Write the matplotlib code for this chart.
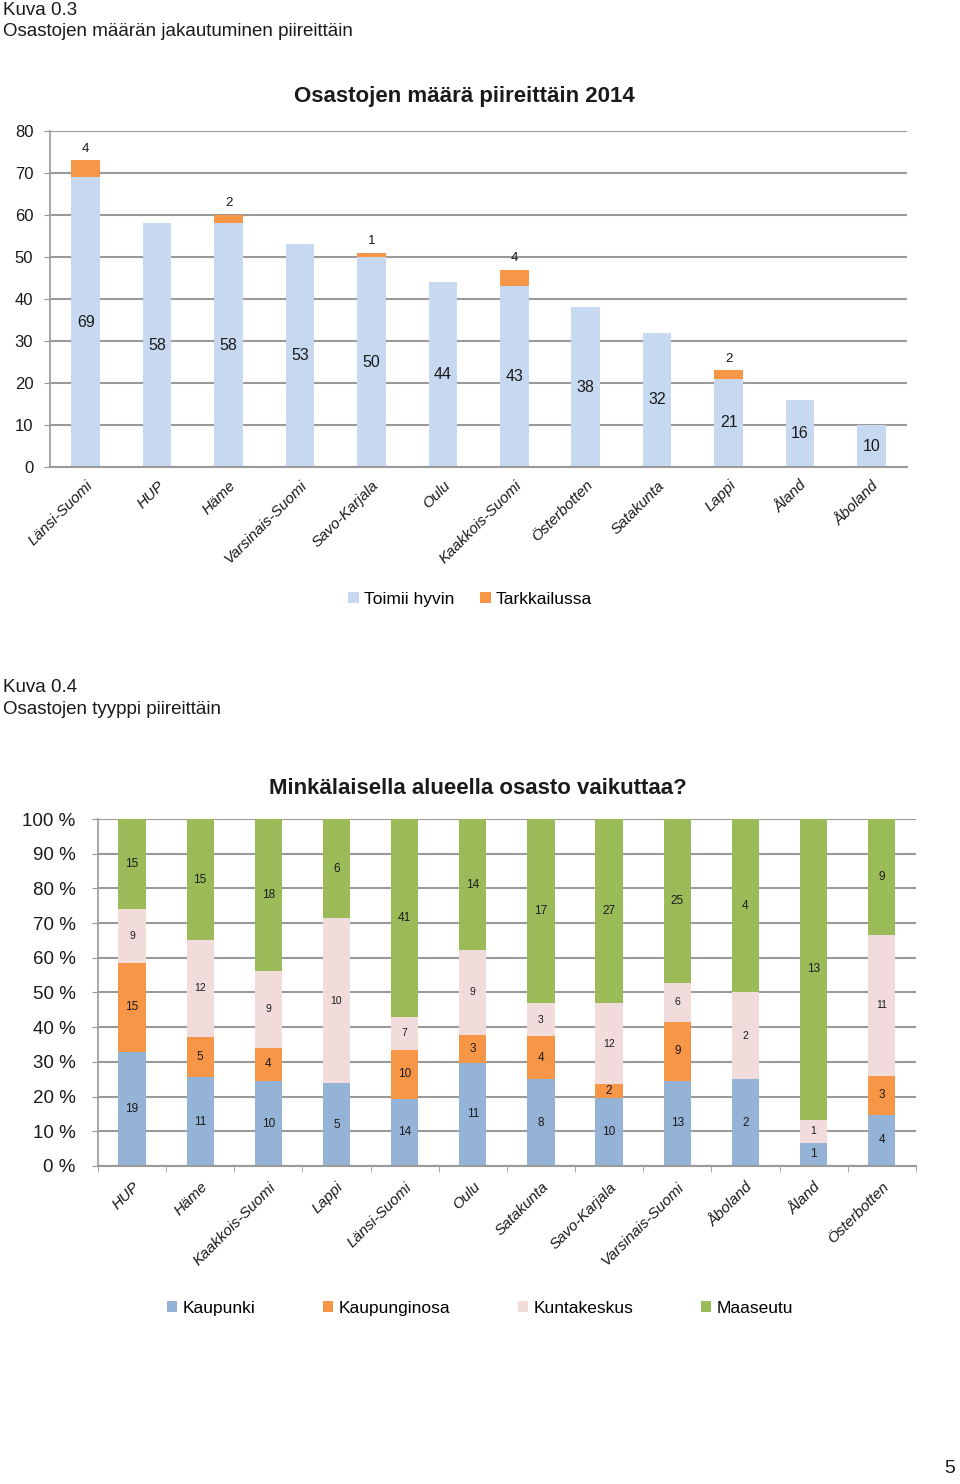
import numpy as np
import matplotlib.pyplot as plt

plt.rcParams['font.family'] = ['Liberation Sans', 'DejaVu Sans']

# Kuva 0.3
piirit_1 = ['Länsi-Suomi', 'HUP', 'Häme', 'Varsinais-Suomi', 'Savo-Karjala', 'Oulu',
            'Kaakkois-Suomi', 'Österbotten', 'Satakunta', 'Lappi', 'Åland', 'Åboland']
toimii_hyvin = [69, 58, 58, 53, 50, 44, 43, 38, 32, 21, 16, 10]
tarkkailussa = [4, 0, 2, 0, 1, 0, 4, 0, 0, 2, 0, 0]

# Kuva 0.4
piirit_2 = ['HUP', 'Häme', 'Kaakkois-Suomi', 'Lappi', 'Länsi-Suomi', 'Oulu', 'Satakunta',
            'Savo-Karjala', 'Varsinais-Suomi', 'Åboland', 'Åland', 'Österbotten']
kaupunki = [19, 11, 10, 5, 14, 11, 8, 10, 13, 2, 1, 4]
kaupunginosa = [15, 5, 4, 0, 10, 3, 4, 2, 9, 0, 0, 3]
kuntakeskus = [9, 12, 9, 10, 7, 9, 3, 12, 6, 2, 1, 11]
maaseutu = [15, 15, 18, 6, 41, 14, 17, 27, 25, 4, 13, 9]

GRID = '#9a9a9a'
TXT = '#1a1a1a'

fig = plt.figure(figsize=(9.6, 14.84), dpi=100)

fig.text(0.003, 0.993, 'Kuva 0.3', fontsize=13.5, va='center', color=TXT)
fig.text(0.003, 0.9785, 'Osastojen määrän jakautuminen piireittäin', fontsize=13.5, va='center', color=TXT)
fig.text(0.003, 0.5365, 'Kuva 0.4', fontsize=13.5, va='center', color=TXT)
fig.text(0.003, 0.5217, 'Osastojen tyyppi piireittäin', fontsize=13.5, va='center', color=TXT)
fig.text(0.995, 0.005, '5', fontsize=14, ha='right', va='bottom', color=TXT)


def style_axes(ax):
    ax.spines['top'].set_visible(False)
    ax.spines['right'].set_visible(False)
    ax.spines['left'].set_color(GRID)
    ax.spines['bottom'].set_color(GRID)
    ax.spines['left'].set_linewidth(1.2)
    ax.spines['bottom'].set_linewidth(1.5)
    ax.yaxis.grid(True, color=GRID, linewidth=1.5)
    ax.set_axisbelow(True)
    ax.tick_params(axis='y', colors=GRID, labelcolor=TXT, length=4)


# ---- top chart ----
ax1 = fig.add_axes([0.052, 0.6853, 0.893, 0.2264])
x1 = np.arange(len(piirit_1))
b1 = ax1.bar(x1, toimii_hyvin, width=0.4, color='#C6D9F1', label='Toimii hyvin')
b2 = ax1.bar(x1, tarkkailussa, width=0.4, bottom=toimii_hyvin, color='#F79646', label='Tarkkailussa')
ax1.set_xlim(-0.5, len(piirit_1) - 0.5)
ax1.set_ylim(0, 80)
ax1.set_yticks(range(0, 81, 10))
style_axes(ax1)
ax1.tick_params(axis='y', labelsize=12, pad=8)
ax1.set_xticks(x1)
ax1.set_xticklabels(piirit_1, rotation=45, ha='right', rotation_mode='anchor',
                    fontsize=11, style='italic', color=TXT)
ax1.tick_params(axis='x', length=0, pad=8)
for i, v in enumerate(toimii_hyvin):
    ax1.text(i, v / 2, str(v), ha='center', va='center', fontsize=11.5, color=TXT)
for i, (v, t) in enumerate(zip(toimii_hyvin, tarkkailussa)):
    if t:
        ax1.annotate(str(t), (i, v + t), xytext=(0, 4), textcoords='offset points',
                     ha='center', va='bottom', fontsize=9.5, color=TXT)
ax1.set_title('Osastojen määrä piireittäin 2014', fontsize=16, fontweight='bold', pad=21,
              x=0.483, color=TXT)
fig.legend(handles=[b1, b2], loc='center', bbox_to_anchor=(0.49, 0.596), ncol=2, frameon=False,
           fontsize=12.5, handlelength=0.6, handleheight=0.6, handletextpad=0.3, columnspacing=1.5)

# ---- bottom chart ----
ax2 = fig.add_axes([0.102, 0.2143, 0.852, 0.2338])
x2 = np.arange(len(piirit_2))
series = [kaupunki, kaupunginosa, kuntakeskus, maaseutu]
names = ['Kaupunki', 'Kaupunginosa', 'Kuntakeskus', 'Maaseutu']
colors = ['#95B3D7', '#F79646', '#F2DCDB', '#9BBB59']
counts = np.array(series, dtype=float)
totals = counts.sum(axis=0)
shares = counts / totals * 100
bottom = np.zeros(len(piirit_2))
handles = []
for k in range(4):
    h = ax2.bar(x2, shares[k], width=0.4, bottom=bottom, color=colors[k], label=names[k])
    handles.append(h)
    for i in range(len(piirit_2)):
        if counts[k, i] > 0:
            ax2.text(i, bottom[i] + shares[k, i] / 2, str(int(counts[k, i])), ha='center', va='center',
                     fontsize=7.5 if k == 2 else 8.5, color=TXT)
    bottom += shares[k]
ax2.set_xlim(-0.5, len(piirit_2) - 0.5)
ax2.set_ylim(0, 100)
ax2.set_yticks(range(0, 101, 10))
ax2.set_yticklabels([f'{v} %' for v in range(0, 101, 10)])
style_axes(ax2)
ax2.tick_params(axis='y', labelsize=13.5, pad=12)
ax2.set_xticks(x2)
ax2.set_xticklabels(piirit_2, rotation=45, ha='right', rotation_mode='anchor',
                    fontsize=11, style='italic', color=TXT)
ax2.tick_params(axis='x', length=0, pad=10)
ax2.set_xticks(np.arange(-0.5, len(piirit_2)), minor=True)
ax2.tick_params(axis='x', which='minor', length=4, color=GRID)
ax2.set_title('Minkälaisella alueella osasto vaikuttaa?', fontsize=16, fontweight='bold', pad=18,
              x=0.465, color=TXT)
fig.legend(handles=handles, loc='center', bbox_to_anchor=(0.5, 0.1183), ncol=4, frameon=False,
           fontsize=12.5, handlelength=0.6, handleheight=0.6, handletextpad=0.3, columnspacing=3.9)

fig.savefig('out.png', dpi=100)
